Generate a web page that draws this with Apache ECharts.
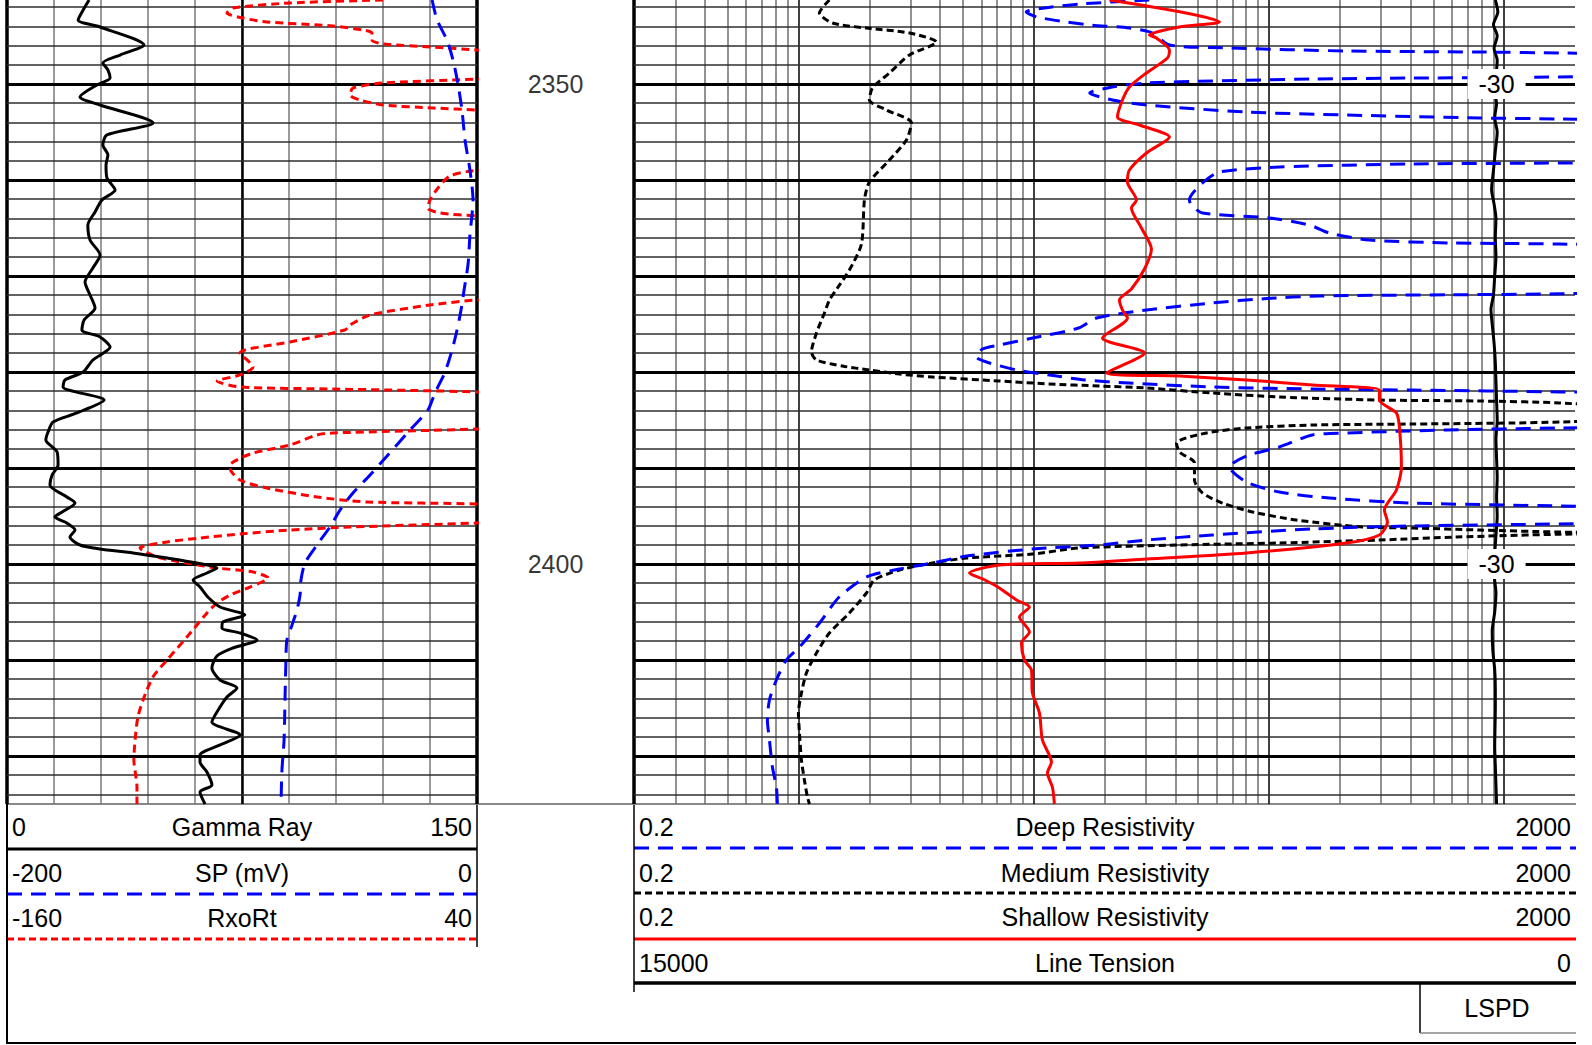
<!DOCTYPE html>
<html><head><meta charset="utf-8">
<script src="https://cdn.jsdelivr.net/npm/echarts@6/dist/echarts.min.js"></script>
<style>html,body{margin:0;padding:0;background:#fff}#c{width:1592px;height:1045px}</style>
</head><body><div id="c"></div>
<script>
// ---------- scales / ticks ----------
const DEPTH_TOP = 2341.25, DEPTH_BOTTOM = 2425;
const depthLabels = [2350, 2400];
const minorDepths = [2342,2344,2346,2348,2352,2354,2356,2358,2362,2364,2366,2368,2372,2374,2376,2378,2382,2384,2386,2388,2392,2394,2396,2398,2402,2404,2406,2408,2412,2414,2416,2418,2422,2424];
const majorDepths = [2350,2360,2370,2380,2390,2400,2410,2420];
const logMinor = [0.3,0.4,0.5,0.6,0.7,0.8,0.9,2,3,4,5,6,7,8,9,20,30,40,50,60,70,80,90,200,300,400,500,600,700,800,900];
const logMajor = [1,10,100,1000];
const lspdDepths = [2350, 2400];
const lspdValues = [-30, -30];

// ---------- curves: [depth, value] ----------
const gammaRay = [[2341.25,26.2],[2342.29,24.3],[2343.33,22.7],[2344.06,29.7],[2345.94,43.7],[2346.98,36.1],[2347.81,30.6],[2348.54,32.2],[2349.38,32.9],[2350.10,28.7],[2351.35,23.3],[2352.19,29.7],[2354.06,46.6],[2355.31,31.9],[2356.35,30.6],[2357.40,32.2],[2358.44,31.6],[2359.79,31.9],[2361.04,34.5],[2362.08,30.3],[2363.33,28.1],[2364.69,25.8],[2366.25,26.5],[2367.81,29.7],[2369.17,27.4],[2370.63,24.9],[2371.98,26.5],[2373.33,28.1],[2374.58,24.6],[2375.63,23.9],[2376.35,29.7],[2377.40,32.9],[2378.75,27.4],[2380.0,24.3],[2380.83,18.5],[2381.56,17.9],[2382.92,31.0],[2384.27,22.3],[2385.21,14.7],[2386.25,13.1],[2387.08,12.4],[2388.33,16.0],[2389.69,16.3],[2390.73,14.4],[2391.77,13.7],[2393.02,19.1],[2393.65,21.7],[2394.58,17.6],[2395.10,15.3],[2395.73,19.1],[2396.46,21.7],[2397.19,20.1],[2398.02,23.3],[2398.44,29.7],[2398.85,40.2],[2399.38,51.1],[2399.90,60.6],[2400.42,67.0],[2400.94,63.8],[2401.67,59.4],[2402.40,61.6],[2403.44,64.1],[2404.48,68.0],[2405.31,75.9],[2406.04,68.9],[2406.67,68.6],[2407.19,74.4],[2407.92,79.8],[2408.75,72.1],[2409.58,67.0],[2410.83,65.4],[2412.08,68.0],[2412.92,73.4],[2413.85,70.2],[2414.90,68.0],[2416.46,65.4],[2417.81,74.4],[2418.85,68.0],[2419.90,61.6],[2420.63,61.6],[2421.67,63.8],[2423.02,65.4],[2423.75,61.6],[2425.0,63.2]];
const spMv = [[2341.25,-19.1],[2343.33,-17.0],[2345.42,-12.8],[2347.5,-10.2],[2350.0,-8.1],[2352.71,-6.4],[2355.83,-5.1],[2358.96,-3.0],[2362.08,-1.7],[2365.73,-3.0],[2368.75,-3.8],[2371.46,-5.5],[2373.54,-6.8],[2375.63,-8.5],[2377.71,-10.6],[2380.0,-13.6],[2382.19,-17.9],[2383.96,-20.9],[2386.04,-28.5],[2388.65,-37.9],[2390.73,-45.5],[2392.60,-52.8],[2394.38,-58.3],[2396.15,-62.6],[2398.02,-68.1],[2399.90,-73.2],[2401.67,-74.9],[2403.23,-75.3],[2404.79,-76.6],[2406.35,-78.7],[2407.92,-80.9],[2410.0,-81.3],[2414.17,-81.7],[2418.33,-82.1],[2421.46,-83.0],[2425.0,-83.4]];
const rxoRt = [[2341.25,0.0],[2341.56,-39.6],[2342.08,-63.8],[2342.60,-66.4],[2343.13,-59.6],[2343.54,-49.4],[2343.96,-21.3],[2344.38,-8.5],[2344.69,-4.7],[2345.42,-4.7],[2345.83,0.0],[2346.15,21.3],[2346.46,40],[2346.98,70],[2349.06,70],[2349.48,40],[2349.90,0],[2350.42,-12.8],[2351.15,-14.0],[2351.67,-9.8],[2352.19,0],[2352.50,21.3],[2352.71,40],[2353.13,70],[2358.54,70],[2359.06,37.9],[2359.58,28.5],[2360.83,23.4],[2362.08,20.0],[2362.92,19.1],[2363.44,24.3],[2363.75,40],[2364.17,70],[2372.19,70],[2372.50,40],[2373.02,20.0],[2374.06,-5.5],[2375.10,-14.0],[2375.63,-16.2],[2376.88,-39.6],[2378.02,-60.9],[2379.48,-55.3],[2380.31,-60.9],[2380.94,-70.6],[2381.56,-60.9],[2381.77,-21.3],[2382.08,40],[2382.5,70],[2385.52,70],[2385.94,40],[2386.35,-21.3],[2386.56,-28.1],[2387.60,-39.6],[2388.44,-55.3],[2389.38,-63.8],[2390.0,-65.1],[2391.25,-60.9],[2392.08,-49.4],[2393.02,-28.1],[2393.54,-6.8],[2393.75,40],[2394.17,70],[2395.31,70],[2395.73,40],[2396.15,-14.0],[2396.46,-39.6],[2396.88,-60.9],[2397.29,-77.9],[2397.71,-91.9],[2398.33,-103.4],[2399.27,-96.2],[2399.90,-83.4],[2400.42,-70.6],[2400.83,-55.3],[2401.46,-48.9],[2402.40,-56.6],[2403.23,-65.1],[2404.06,-70.6],[2405.10,-74.9],[2407.60,-83.4],[2410.0,-91.9],[2411.77,-97.9],[2414.17,-102.1],[2415.94,-104.3],[2418.33,-105.5],[2420.42,-106.0],[2423.23,-104.7],[2425.0,-104.7]];
const deepRes = [[2341.25,31.0],[2341.67,15.65],[2342.08,11.1],[2342.5,9.3],[2343.02,10.3],[2343.54,13.8],[2343.85,17.3],[2344.17,25.5],[2344.69,32.0],[2345.94,37.8],[2346.25,68.0],[2346.56,213.5],[2346.67,785],[2346.77,1718],[2347.0,5000],[2349.0,5000],[2349.27,1718],[2349.38,407],[2349.48,153],[2349.69,57.5],[2349.9,30.2],[2350.31,21.6],[2350.94,17.3],[2351.67,21.6],[2352.19,30.2],[2352.92,80.3],[2353.23,213.5],[2353.54,785],[2353.65,1718],[2354.0,5000],[2358.0,5000],[2358.23,1718],[2358.33,407],[2358.65,110.8],[2359.17,61.6],[2360.31,52.2],[2362.08,45.9],[2362.6,46.8],[2363.44,52.2],[2363.96,100.5],[2364.69,148.7],[2365.52,180.8],[2366.25,267.5],[2366.56,585],[2366.67,1718],[2367.0,5000],[2371.5,5000],[2371.85,1718],[2371.96,585],[2372.08,164],[2372.35,97.6],[2372.81,57.5],[2373.54,30.2],[2374.38,18.5],[2375.42,15.5],[2376.46,9.9],[2377.19,7.15],[2377.6,6.06],[2378.44,5.71],[2378.96,6.3],[2379.79,8.45],[2380.31,11.67],[2380.83,16.5],[2381.15,25.5],[2381.56,57.5],[2381.77,153],[2381.88,407],[2382.08,1718],[2382.3,5000],[2385.6,5000],[2385.83,1718],[2386.04,568],[2386.35,213.5],[2386.56,153],[2387.81,110.8],[2388.75,80.3],[2389.9,68.0],[2391.46,80.3],[2392.5,110.8],[2393.13,180.8],[2393.65,407],[2393.96,1718],[2394.2,5000],[2395.6,5000],[2395.83,1718],[2396.04,407],[2396.35,153],[2396.98,57.5],[2397.5,30.2],[2398.02,19.0],[2398.44,9.9],[2399.17,5.18],[2399.9,3.71],[2400.52,2.69],[2401.35,1.95],[2403.44,1.49],[2406.15,1.23],[2408.65,1.01],[2410.0,0.889],[2412.08,0.806],[2414.17,0.753],[2416.25,0.738],[2418.33,0.753],[2421.15,0.775],[2423.23,0.806],[2425.0,0.814]];
const mediumRes = [[2341.25,1.354],[2342.60,1.228],[2343.65,1.395],[2344.17,1.946],[2344.69,2.964],[2345.63,3.861],[2346.98,2.964],[2348.85,2.437],[2350.42,2.063],[2351.67,2.003],[2352.71,2.366],[2354.06,3.022],[2355.83,2.878],[2357.92,2.437],[2360.21,2.003],[2362.08,1.908],[2366.67,1.853],[2369.38,1.647],[2371.25,1.465],[2372.5,1.354],[2373.85,1.290],[2375.94,1.193],[2377.92,1.136],[2378.75,1.193],[2379.38,1.538],[2379.79,2.003],[2380.21,2.688],[2380.52,3.712],[2380.94,7.151],[2381.25,11.67],[2381.46,19.03],[2381.67,30.15],[2382.19,57.52],[2382.6,110.8],[2382.92,294.9],[2383.02,784.9],[2383.23,1718],[2383.96,4000],[2384.79,4000],[2385.21,1718],[2385.31,1084],[2385.42,407.4],[2385.52,153.1],[2385.83,80.25],[2386.35,54.25],[2387.40,40.45],[2388.33,41.65],[2389.48,48.25],[2391.25,48.25],[2392.60,52.17],[2393.65,63.43],[2394.58,85.1],[2395.42,130.9],[2396.15,249.6],[2396.25,407.4],[2396.46,784.9],[2396.67,1718],[2396.8,4000],[2396.9,1718],[2397.19,626.6],[2397.5,294.9],[2397.81,110.8],[2398.02,41.65],[2398.33,15.65],[2398.96,9.88],[2399.38,5.18],[2399.9,3.712],[2400.63,2.688],[2401.67,2.1],[2403.02,1.946],[2405.10,1.647],[2407.19,1.354],[2409.27,1.193],[2411.35,1.081],[2413.44,1.03],[2415.52,1.0],[2417.6,1.01],[2420.42,1.03],[2422.5,1.06],[2424.27,1.092],[2425.0,1.114]];
const shallowRes = [[2341.25,21.0],[2343.54,61.6],[2344.06,41.65],[2344.9,31.05],[2345.21,33.25],[2346.46,37.77],[2347.29,37.03],[2348.85,30.15],[2350.31,25.53],[2351.67,23.84],[2353.44,22.70],[2354.27,28.14],[2355.52,37.77],[2357.19,30.15],[2358.96,25.53],[2360.21,25.03],[2362.08,27.34],[2362.92,26.03],[2365.0,28.71],[2367.19,31.66],[2369.27,29.57],[2371.35,26.03],[2372.5,23.15],[2373.54,23.84],[2374.38,25.03],[2376.46,19.6],[2378.02,29.6],[2380.1,20.38],[2380.42,41.65],[2380.83,80.25],[2381.35,153.1],[2381.88,294.9],[2382.92,294.9],[2384.27,348.3],[2385.73,358.6],[2389.9,365.7],[2392.29,348.3],[2394.38,309.7],[2395.63,318.9],[2396.98,294.9],[2397.81,213.5],[2398.85,80.25],[2399.48,30.15],[2399.9,15.65],[2400.1,7.15],[2400.94,5.33],[2401.67,6.2],[2402.5,7.15],[2403.75,8.45],[2404.48,9.59],[2405.52,8.70],[2407.08,9.59],[2408.23,8.87],[2410.0,9.13],[2411.04,9.78],[2413.44,9.88],[2415.52,10.58],[2418.33,10.89],[2420.63,11.9],[2421.77,11.44],[2423.23,12.01],[2425.0,12.25]];
const lineTension = [[2341.25,1270],[2342.5,1230],[2343.8,1300],[2345,1240],[2346.3,1290],[2347.5,1240],[2349,1260],[2350.5,1300],[2352,1250],[2353.5,1280],[2355,1240],[2357,1270],[2359,1300],[2361,1330],[2362.5,1290],[2364,1260],[2366,1270],[2368,1260],[2370,1280],[2372,1300],[2373.5,1340],[2375,1320],[2377,1290],[2379,1270],[2381,1260],[2383,1250],[2385,1240],[2387,1260],[2389,1250],[2391,1240],[2393,1250],[2395,1240],[2397,1260],[2399,1280],[2401,1290],[2403,1260],[2405,1280],[2407,1320],[2409,1310],[2411,1280],[2413,1270],[2415,1270],[2417,1275],[2419,1280],[2421,1270],[2423,1260],[2425,1250]];

// ---------- chart ----------
const FONT = '"Liberation Sans", Arial, sans-serif';
const chart = echarts.init(document.getElementById('c'), null, {renderer: 'svg'});
const toXY = arr => arr.map(p => [p[1], p[0]]);
const hidden = {axisLine:{show:false}, axisTick:{show:false}, axisLabel:{show:false}, splitLine:{show:false}};

function hLines() {
  return minorDepths.map(d => ({yAxis: d, lineStyle: {color: '#2e2e2e', width: 1.5, type: 'solid'}}))
    .concat(majorDepths.map(d => ({yAxis: d, lineStyle: {color: '#000', width: 3, type: 'solid'}})));
}
function gridSeries(name, xi, yi, extra, anchorX) {
  return {
    name, type: 'line', xAxisIndex: xi, yAxisIndex: yi, data: [[anchorX, DEPTH_TOP]], showSymbol: false,
    lineStyle: {opacity: 0}, silent: true, z: 1, animation: false,
    markLine: {silent: true, symbol: ['none','none'], label: {show: false}, animation: false,
      emphasis: {disabled: true}, data: extra.concat(hLines())}
  };
}
function curve(name, xi, yi, data, color, type, width) {
  return {name, type: 'line', xAxisIndex: xi, yAxisIndex: yi, data: toXY(data), showSymbol: false,
    smooth: 0.25, clip: true, z: 5, animation: false, silent: true,
    lineStyle: {color, width, type, cap: 'butt', join: 'round'}};
}

const leftExtra = [
  {xAxis: 75, lineStyle: {color: '#000', width: 2.5, type: 'solid'}},
  {xAxis: 0, lineStyle: {color: '#000', width: 3.5, type: 'solid'}},
  {xAxis: 150, lineStyle: {color: '#000', width: 3.5, type: 'solid'}}
];
const rightExtra = logMinor.map(v => ({xAxis: v, lineStyle: {color: '#6e6e6e', width: 1.5, type: 'solid'}}))
  .concat(logMajor.map(v => ({xAxis: v, lineStyle: {color: '#000', width: 1.5, type: 'solid'}})))
  .concat([{xAxis: 0.2, lineStyle: {color: '#000', width: 3.5, type: 'solid'}}]);

const txt = (x, y, text, align) => ({type: 'text', x, y, silent: true,
  style: {text, font: '25px ' + FONT, fill: '#000', textAlign: align, align: align, textVerticalAlign: 'middle', verticalAlign: 'middle'}});
const ln = (x1, y1, x2, y2, stroke, lineWidth, lineDash) => ({type: 'line', silent: true,
  shape: {x1, y1, x2, y2}, style: {stroke, lineWidth, lineDash: lineDash || null}});

const graphics = [
  // left header
  txt(12, 827, '0', 'left'), txt(242, 827, 'Gamma Ray', 'center'), txt(472, 827, '150', 'right'),
  ln(7, 849, 477, 849, '#000', 3),
  txt(12, 873, '-200', 'left'), txt(242, 873, 'SP (mV)', 'center'), txt(472, 873, '0', 'right'),
  ln(7, 894, 477, 894, '#0000ff', 3, [15, 9]),
  txt(12, 918, '-160', 'left'), txt(242, 918, 'RxoRt', 'center'), txt(472, 918, '40', 'right'),
  ln(7, 939, 477, 939, '#ff0000', 3, [7, 4]),
  ln(477, 804, 477, 947, '#000', 1.5),
  // right header
  txt(639, 827, '0.2', 'left'), txt(1105, 827, 'Deep Resistivity', 'center'), txt(1571, 827, '2000', 'right'),
  ln(634, 848, 1576, 848, '#0000ff', 3, [15, 9]),
  txt(639, 873, '0.2', 'left'), txt(1105, 873, 'Medium Resistivity', 'center'), txt(1571, 873, '2000', 'right'),
  ln(634, 893, 1576, 893, '#000', 3, [7, 4]),
  txt(639, 917, '0.2', 'left'), txt(1105, 917, 'Shallow Resistivity', 'center'), txt(1571, 917, '2000', 'right'),
  ln(634, 939, 1576, 939, '#ff0000', 3),
  txt(639, 963, '15000', 'left'), txt(1105, 963, 'Line Tension', 'center'), txt(1571, 963, '0', 'right'),
  ln(634, 983, 1576, 983, '#000', 3.5),
  ln(634, 804, 634, 992, '#000', 1.5),
  ln(1420, 983, 1420, 1033, '#000', 1.5),
  txt(1497, 1008, 'LSPD', 'center'),
  ln(1420, 1033, 1576, 1033, '#888', 1.5),
  // frame
  ln(7, 804, 1576, 804, '#888', 2),
  ln(7, 804, 7, 1044, '#000', 2),
  ln(7, 1043, 1576, 1043, '#000', 2)
];

chart.setOption({
  animation: false,
  backgroundColor: '#fff',
  grid: [
    {left: 7, top: 0, width: 470, height: 804},
    {left: 634, top: 0, width: 941, height: 804},
    {left: 477, top: 0, width: 157, height: 804}
  ],
  xAxis: [
    Object.assign({gridIndex: 0, type: 'value', min: 0, max: 150, interval: 15}, hidden,
      {splitLine: {show: true, lineStyle: {color: '#7a7a7a', width: 1.5}}}),
    Object.assign({gridIndex: 0, type: 'value', min: -200, max: 0, show: false}),
    Object.assign({gridIndex: 0, type: 'value', min: -160, max: 40, show: false}),
    Object.assign({gridIndex: 1, type: 'log', logBase: 10, min: 0.2, max: 2000}, hidden),
    Object.assign({gridIndex: 1, type: 'value', min: 0, max: 15000, inverse: true, show: false}),
    Object.assign({gridIndex: 2, type: 'value', min: 0, max: 1, show: false})
  ],
  yAxis: [0, 1, 2].map(g => Object.assign({gridIndex: g, type: 'value', inverse: true,
    min: DEPTH_TOP, max: DEPTH_BOTTOM}, hidden)),
  graphic: {elements: graphics},
  series: [
    gridSeries('gridL', 0, 0, leftExtra, 0),
    gridSeries('gridR', 3, 1, rightExtra, 1),
    curve('RxoRt', 2, 0, rxoRt, '#ff0000', [8, 5], 3),
    curve('SP (mV)', 1, 0, spMv, '#0000ff', [15, 9], 3),
    curve('Gamma Ray', 0, 0, gammaRay, '#000000', 'solid', 3),
    curve('Line Tension', 4, 1, lineTension, '#000000', 'solid', 3),
    curve('Medium Resistivity', 3, 1, mediumRes, '#000000', [7, 4], 3),
    curve('Deep Resistivity', 3, 1, deepRes, '#0000ff', [15, 9], 3),
    curve('Shallow Resistivity', 3, 1, shallowRes, '#ff0000', 'solid', 3),
    {
      name: 'depth', type: 'scatter', xAxisIndex: 5, yAxisIndex: 2, silent: true, z: 6,
      data: depthLabels.map(d => [0.5, d]), symbolSize: 1, itemStyle: {color: 'rgba(0,0,0,0)'},
      label: {show: true, position: 'inside', formatter: p => String(p.value[1]),
        fontSize: 25, fontFamily: FONT, color: '#000'}
    },
    {
      name: 'LSPD', type: 'scatter', xAxisIndex: 4, yAxisIndex: 1, silent: true, z: 20,
      data: lspdDepths.map((d, i) => [1250, d]), symbol: 'rect', symbolSize: [58, 30],
      itemStyle: {color: '#ffffff', opacity: 1},
      emphasis: {disabled: true},
      label: {show: true, position: 'inside', formatter: p => String(lspdValues[p.dataIndex]),
        fontSize: 25, fontFamily: FONT, color: '#000'}
    }
  ]
});
</script></body></html>
